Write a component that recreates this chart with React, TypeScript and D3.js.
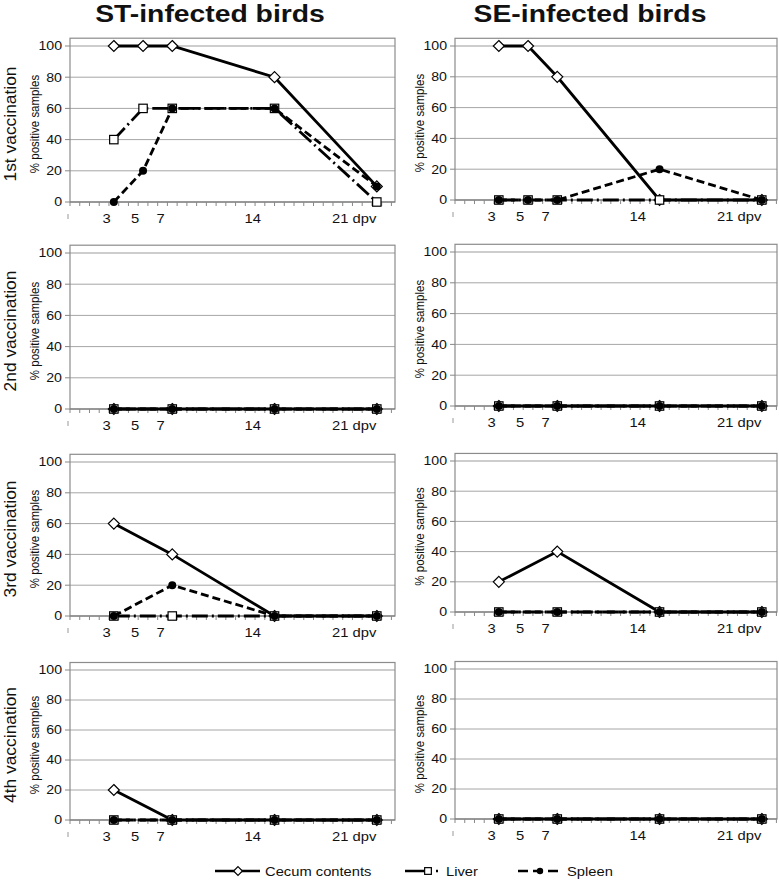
import * as d3 from "d3";

// ---- data ----
const daysFirst = [3, 5, 7, 14, 21];
const daysLater = [3, 7, 14, 21];

const stCecum1 = [100, 100, 100, 80, 10];
const stLiver1 = [40, 60, 60, 60, 0];
const stSpleen1 = [0, 20, 60, 60, 10];
const seCecum1 = [100, 100, 80, 0, 0];
const seLiver1 = [0, 0, 0, 0, 0];
const seSpleen1 = [0, 0, 0, 20, 0];

const stCecum2 = [0, 0, 0, 0];
const stLiver2 = [0, 0, 0, 0];
const stSpleen2 = [0, 0, 0, 0];
const seCecum2 = [0, 0, 0, 0];
const seLiver2 = [0, 0, 0, 0];
const seSpleen2 = [0, 0, 0, 0];

const stCecum3 = [60, 40, 0, 0];
const stLiver3 = [0, 0, 0, 0];
const stSpleen3 = [0, 20, 0, 0];
const seCecum3 = [20, 40, 0, 0];
const seLiver3 = [0, 0, 0, 0];
const seSpleen3 = [0, 0, 0, 0];

const stCecum4 = [20, 0, 0, 0];
const stLiver4 = [0, 0, 0, 0];
const stSpleen4 = [0, 0, 0, 0];
const seCecum4 = [0, 0, 0, 0];
const seLiver4 = [0, 0, 0, 0];
const seSpleen4 = [0, 0, 0, 0];

const columnTitles = ["ST-infected birds", "SE-infected birds"];
const rowLabels = ["1st vaccination", "2nd vaccination", "3rd vaccination", "4th vaccination"];
const seriesNames = ["Cecum contents", "Liver", "Spleen"];
const yTicks = [0, 20, 40, 60, 80, 100];
const gridTicks = [20, 40, 60, 80, 100];
const xTickLabels = ["3", "5", "7", "14", "21 dpv"];
const xTickLabelAt = [2.5, 4.45, 6.2, 12.5, 19.45];

// ---- layout ----
const SX = 1.18; // the source is stretched horizontally
const FONT = "'Liberation Sans', Arial, sans-serif";
const DAY_PX = 14.61;
const cols = [
  { x0: 70, x1: 395 },
  { x0: 455, x1: 777 },
];
const rowsY = [
  [{ top: 46, bottom: 202 }, { top: 46, bottom: 200 }],
  [{ top: 253, bottom: 409 }, { top: 252, bottom: 406 }],
  [{ top: 462, bottom: 616 }, { top: 461, bottom: 612 }],
  [{ top: 670, bottom: 820 }, { top: 669, bottom: 819 }],
];

const styles = [
  { dash: null, marker: "diamond" },
  { dash: "16,4,2,4", marker: "square" },
  { dash: "8,4", marker: "circle" },
];

const panelData = [
  [
    { days: daysFirst, series: [stCecum1, stLiver1, stSpleen1] },
    { days: daysFirst, series: [seCecum1, seLiver1, seSpleen1] },
  ],
  [
    { days: daysLater, series: [stCecum2, stLiver2, stSpleen2] },
    { days: daysLater, series: [seCecum2, seLiver2, seSpleen2] },
  ],
  [
    { days: daysLater, series: [stCecum3, stLiver3, stSpleen3] },
    { days: daysLater, series: [seCecum3, seLiver3, seSpleen3] },
  ],
  [
    { days: daysLater, series: [stCecum4, stLiver4, stSpleen4] },
    { days: daysLater, series: [seCecum4, seLiver4, seSpleen4] },
  ],
];

function Txt({ x, y, size, anchor = "start", rotate = false, bold = false, sx = SX, children }: any) {
  return (
    <text
      transform={`translate(${x},${y}) scale(${sx},1)${rotate ? " rotate(-90)" : ""}`}
      fontFamily={FONT}
      fontSize={size}
      fontWeight={bold ? "bold" : "normal"}
      textAnchor={anchor}
      fill="#111"
    >
      {children}
    </text>
  );
}

function Marker({ type, x, y, s = 1 }: any) {
  if (type === "diamond") {
    const r = 5.5 * s;
    return (
      <path
        d={`M${x},${y - r}L${x + r},${y}L${x},${y + r}L${x - r},${y}Z`}
        fill="#fff"
        stroke="#000"
        strokeWidth={1.2}
      />
    );
  }
  if (type === "square") {
    const r = 4.2 * s;
    return <rect x={x - r} y={y - r} width={2 * r} height={2 * r} fill="#fff" stroke="#000" strokeWidth={1.2} />;
  }
  return <circle cx={x} cy={y} r={4 * s} fill="#000" />;
}

function Panel({ col, row }: { col: number; row: number }) {
  const { x0, x1 } = cols[col];
  const { top, bottom } = rowsY[row][col];
  const x = d3.scaleLinear().domain([0, (x1 - x0) / DAY_PX]).range([x0, x1]);
  const y = d3.scaleLinear().domain([0, 100]).range([bottom, top]);
  const minor = d3.range(0, x.domain()[1] + 0.01, 2 / 3);
  const { days, series } = panelData[row][col];
  const line = d3
    .line<number>()
    .x((_, i) => x(days[i]))
    .y((v) => y(v));
  const frameTop = y(105);

  return (
    <g>
      {gridTicks.map((t) => (
        <line key={t} x1={x0} x2={x1} y1={y(t)} y2={y(t)} stroke={t === 100 ? "#bdbdbd" : "#a6a6a6"} strokeWidth={t === 100 ? 1.6 : 1} />
      ))}
      <rect x={x0} y={frameTop} width={x1 - x0} height={y(0) - frameTop} fill="none" stroke="#8c8c8c" strokeWidth={1.2} />
      <line x1={x0} x2={x1} y1={y(0)} y2={y(0)} stroke="#777" strokeWidth={1.2} />
      {minor.map((d, i) => (
        <line key={i} x1={x(d)} x2={x(d)} y1={y(0)} y2={y(0) + 4} stroke="#888" strokeWidth={1} />
      ))}
      {yTicks.map((t) => (
        <g key={t}>
          <line x1={x0 - 5} x2={x0} y1={y(t)} y2={y(t)} stroke="#888" />
          <Txt x={x0 - 8} y={y(t) + 4.3} size={12} anchor="end">
            {t}
          </Txt>
        </g>
      ))}
      <Txt x={x0 - 31} y={(top + bottom) / 2} size={11.5} anchor="middle" rotate>
        {"%  positive samples"}
      </Txt>
      <line x1={x0 - 2} x2={x0 - 2} y1={y(0) + 12} y2={y(0) + 17} stroke="#999" />
      {xTickLabels.map((l, i) => (
        <Txt key={l} x={x(xTickLabelAt[i])} y={y(0) + 21} size={12.5} anchor="middle">
          {l}
        </Txt>
      ))}
      {series.map((vals, si) => (
        <g key={si}>
          <path d={line(vals) || ""} fill="none" stroke="#000" strokeWidth={2.8} strokeDasharray={styles[si].dash || undefined} />
          {vals.map((v, i) => (
            <Marker key={i} type={styles[si].marker} x={x(days[i])} y={y(v)} />
          ))}
        </g>
      ))}
    </g>
  );
}

export default function App() {
  const legendY = 871;
  const legendItems = [
    { x1: 215, x2: 260, mx: 238, tx: 265, dash: null },
    { x1: 405, x2: 440, mx: 428, tx: 446, dash: "20,11,2,10" },
    { x1: 518, x2: 562, mx: 540, tx: 567, dash: "10,5" },
  ];
  return (
    <svg width={779} height={880} style={{ position: "absolute", left: 0, top: 0, background: "#fff" }}>
      <rect width={779} height={880} fill="#fff" />
      {columnTitles.map((t, i) => (
        <Txt key={t} x={i === 0 ? 210 : 590} y={22} size={24} anchor="middle" bold>
          {t}
        </Txt>
      ))}
      {rowLabels.map((l, r) => (
        <Txt key={l} x={16} y={(rowsY[r][0].top + rowsY[r][0].bottom) / 2} size={17.4} anchor="middle" rotate sx={1}>
          {l}
        </Txt>
      ))}
      {rowsY.map((_, r) => cols.map((_, c) => <Panel key={`${r}-${c}`} col={c} row={r} />))}
      {legendItems.map((it, i) => (
        <g key={i}>
          <line x1={it.x1} x2={it.x2} y1={legendY} y2={legendY} stroke="#000" strokeWidth={2.6} strokeDasharray={it.dash || undefined} />
          <Marker type={styles[i].marker} x={it.mx} y={legendY} s={0.8} />
          <Txt x={it.tx} y={legendY + 4.5} size={12.5}>
            {seriesNames[i]}
          </Txt>
        </g>
      ))}
    </svg>
  );
}
